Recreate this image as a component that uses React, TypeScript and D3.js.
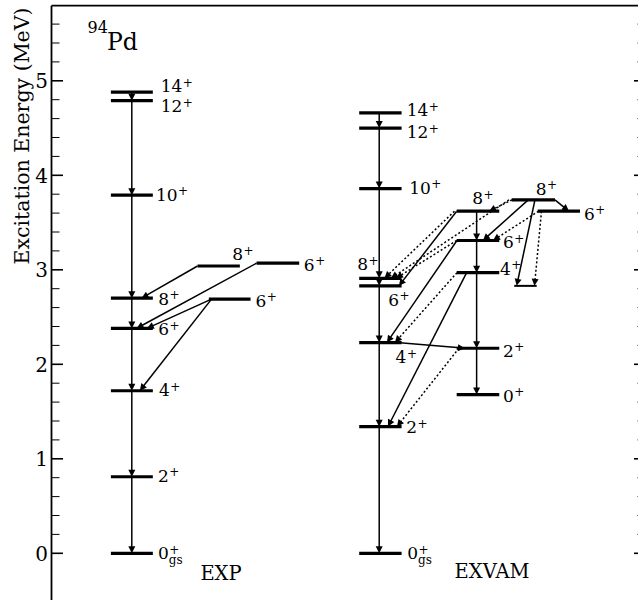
import React from 'react';
import * as d3 from 'd3';

const WIDTH = 638;
const HEIGHT = 600;
const FONT = "'DejaVu Serif', serif";

// ---- Level data (energy in MeV, spin, column extent in diagram units) ----
const levelIds = ['E0','E2','E4','E6','E8','E10','E12','E14','E8b','E6b','E6c',
  'V0','V2','V4','V6','V8','V10','V12','V14','W0','W2','W4','W6','W8','T8','T6','S6'];
const levelEnergy = [0, 0.81, 1.72, 2.38, 2.70, 3.79, 4.79, 4.88, 3.04, 2.69, 3.07,
  0, 1.34, 2.23, 2.83, 2.91, 3.86, 4.50, 4.66, 1.68, 2.17, 2.97, 3.31, 3.62, 3.74, 3.62, 2.83];
const levelSpin = ['0','2','4','6','8','10','12','14','8','6','6',
  '0','2','4','6','8','10','12','14','0','2','4','6','8','8','6',''];
const levelSub = ['gs','','','','','','','','','','',
  'gs','','','','','','','','','','','','','','',''];
const levelStart = [10,10,10,10,10,10,10,10,24.59,26.49,34.52,
  51.8,51.8,51.8,51.8,51.8,51.8,51.8,51.8,68.21,68.21,68.21,68.21,68.21,77.47,81.85,77.9];
const levelEnd = [17.06,17.06,17.06,17.06,17.06,17.06,17.06,17.06,31.71,33.51,41.7,
  58.94,58.94,58.94,58.94,58.94,58.94,58.94,58.94,75.38,75.38,75.38,75.38,75.38,84.76,88.97,81.68];

// label placement (px from level start, px from level line)
const labelDx = [47,47,48,47.3,47.3,45,49.8,49.8,34.6,46.7,47.3,
  48,47,36.4,29,-2,50,47.5,47.5,46.3,46.3,43.3,46.3,15.6,24,46.3,0];
const labelDy = [6,5,5.5,6.7,6.6,5.7,11.6,0,-5.7,7.7,7.4,
  6,6.6,20.6,20,-8,5,10,3.4,7.4,8.4,2.3,7.6,-7,-5,8.3,0];

// ---- Cascades (vertical in-band transitions) ----
const cascadeExp = ['E14','E12','E10','E8','E6','E4','E2','E0'];
const cascadeVam = ['V14','V12','V10','V8','V6','V4','V2','V0'];
const cascadeSide = ['W8','W6','W4','W2','W0'];
const cascadeX = [13.52, 55.17, 71.57];

// ---- Inter-band transitions ----
const transFrom = ['E8b','E6c','E6b','E6b','W8','W8','T8','T8','W6','W6','T8','T6','T8','T6','T8','W4','W4','W2','V4'];
const transTo   = ['E8','E6','E6','E4','V6','V8','W8','V8','V8','V4','W6','W6','S6','S6','T6','V4','V2','V2','W2'];
const transXFrom = [24.59,34.52,26.94,26.94,68.21,67.84,77.52,77.02,68.21,68.26,80.26,81.99,81.39,82.49,84.76,68.26,69.89,68.59,58.15];
const transXTo   = [15.16,14.31,16.05,14.87,58.49,56.05,73.65,57.14,57.98,56.47,72.63,74.32,78.31,81.31,87.12,57.82,56.64,58.15,69.6];
const transDotted = [0,0,0,0,0,1,1,1,1,0,0,1,0,1,0,1,0,1,0];

// ---- Axis ----
const majorTicks = [0, 1, 2, 3, 4, 5];
const minorTicks = [0.2,0.4,0.6,0.8,1.2,1.4,1.6,1.8,2.2,2.4,2.6,2.8,3.2,3.4,3.6,3.8,4.2,4.4,4.6,4.8,5.2,5.4,5.6];
const yLabel = 'Excitation Energy (MeV)';
const bandNames = ['EXP', 'EXVAM'];

const left = 51.5, right = 645.5, top = 5.7;
const x = d3.scaleLinear().domain([0, 100]).range([left, right]);
const y = d3.scaleLinear().domain([0, 5]).range([553.3, 80.8]);

const levelIndex = (id: string) => levelIds.indexOf(id);
const eY = (id: string) => y(levelEnergy[levelIndex(id)]);

function arrowHead(x0: number, y0: number, x1: number, y1: number, len = 7, hw = 3.5) {
  const dx = x1 - x0, dy = y1 - y0;
  const L = Math.hypot(dx, dy) || 1;
  const ux = dx / L, uy = dy / L;
  const bx = x1 - ux * len, by = y1 - uy * len;
  const px = -uy, py = ux;
  return `M${x1},${y1}L${bx + px * hw},${by + py * hw}L${bx - px * hw},${by - py * hw}Z`;
}

function Arrow({ x0, y0, x1, y1, dotted }: { x0: number; y0: number; x1: number; y1: number; dotted?: boolean }) {
  const dx = x1 - x0, dy = y1 - y0;
  const L = Math.hypot(dx, dy) || 1;
  const ex = x1 - (dx / L) * 5, ey = y1 - (dy / L) * 5;
  return (
    <g>
      <line x1={x0} y1={y0} x2={ex} y2={ey} stroke="#000" strokeWidth={1.5}
        strokeDasharray={dotted ? '2 2.2' : undefined} />
      <path d={arrowHead(x0, y0, x1, y1)} fill="#000" />
    </g>
  );
}

function LevelLabel({ i }: { i: number }) {
  const spin = levelSpin[i];
  if (!spin) return null;
  const lx = x(levelStart[i]) + labelDx[i];
  const ly = y(levelEnergy[i]) + labelDy[i];
  const fs = 17;
  const w = spin.length * 0.636 * fs;
  return (
    <text x={lx} y={ly} fontSize={fs} fontFamily={FONT} fill="#000">
      {spin}
      <tspan x={lx + w + 0.5} y={ly - 5.5} fontSize={12}>+</tspan>
      {levelSub[i] && <tspan x={lx + w} y={ly + 4.5} fontSize={12}>{levelSub[i]}</tspan>}
    </text>
  );
}

export default function App() {
  const cascades = [cascadeExp, cascadeVam, cascadeSide];
  return (
    <svg width={WIDTH} height={HEIGHT} style={{ position: 'absolute', left: 0, top: 0 }}>
      <rect x={0} y={0} width={WIDTH} height={HEIGHT} fill="#fff" />
      {/* frame */}
      <line x1={left} y1={top} x2={right} y2={top} stroke="#000" strokeWidth={1.8} />
      <line x1={left} y1={top} x2={left} y2={HEIGHT + 5} stroke="#000" strokeWidth={1.8} />
      <line x1={right} y1={top} x2={right} y2={HEIGHT + 5} stroke="#000" strokeWidth={1.8} />
      {majorTicks.map((t) => (
        <g key={'M' + t}>
          <line x1={left} x2={left + 11.5} y1={y(t)} y2={y(t)} stroke="#000" strokeWidth={1.6} />
          <line x1={right - 11.5} x2={right} y1={y(t)} y2={y(t)} stroke="#000" strokeWidth={1.6} />
          <text x={48} y={y(t)} dy="0.36em" textAnchor="end" fontFamily={FONT} fontSize={20}>{t}</text>
        </g>
      ))}
      {minorTicks.map((t) => (
        <g key={'m' + t}>
          <line x1={left} x2={left + 8} y1={y(t)} y2={y(t)} stroke="#000" strokeWidth={1} />
          <line x1={right - 8} x2={right} y1={y(t)} y2={y(t)} stroke="#000" strokeWidth={1} />
        </g>
      ))}
      <g transform="translate(28.5,136) rotate(-90)">
        <text x={0} y={0} textAnchor="middle" fontFamily={FONT} fontSize={20.5} fill="#000"
          textRendering="geometricPrecision">{yLabel}</text>
      </g>

      {/* nucleus */}
      <text x={87.5} y={50} fontFamily={FONT} fontSize={23.5} fill="#000">
        <tspan fontSize={16} dy={-17}>94</tspan>
        <tspan x={107} y={50}>Pd</tspan>
      </text>

      {/* levels */}
      {levelIds.map((id, i) => (
        <line key={id} x1={x(levelStart[i])} x2={x(levelEnd[i])} y1={y(levelEnergy[i])} y2={y(levelEnergy[i])}
          stroke="#000" strokeWidth={id === 'S6' ? 2 : 3.2} />
      ))}

      {/* cascades */}
      {cascades.map((c, ci) => (
        <g key={'c' + ci}>
          {c.slice(0, -1).map((id, k) => (
            <Arrow key={id} x0={x(cascadeX[ci])} y0={eY(id)} x1={x(cascadeX[ci])} y1={eY(c[k + 1])} />
          ))}
        </g>
      ))}

      {/* cross transitions */}
      {transFrom.map((f, i) => (
        <Arrow key={'t' + i} x0={x(transXFrom[i])} y0={eY(f)} x1={x(transXTo[i])} y1={eY(transTo[i])}
          dotted={transDotted[i] === 1} />
      ))}

      {levelIds.map((id, i) => <LevelLabel key={'l' + id} i={i} />)}

      <text x={221} y={580} textAnchor="middle" fontFamily={FONT} fontSize={19.5}>{bandNames[0]}</text>
      <text x={492} y={578} textAnchor="middle" fontFamily={FONT} fontSize={19.5}>{bandNames[1]}</text>
    </svg>
  );
}
